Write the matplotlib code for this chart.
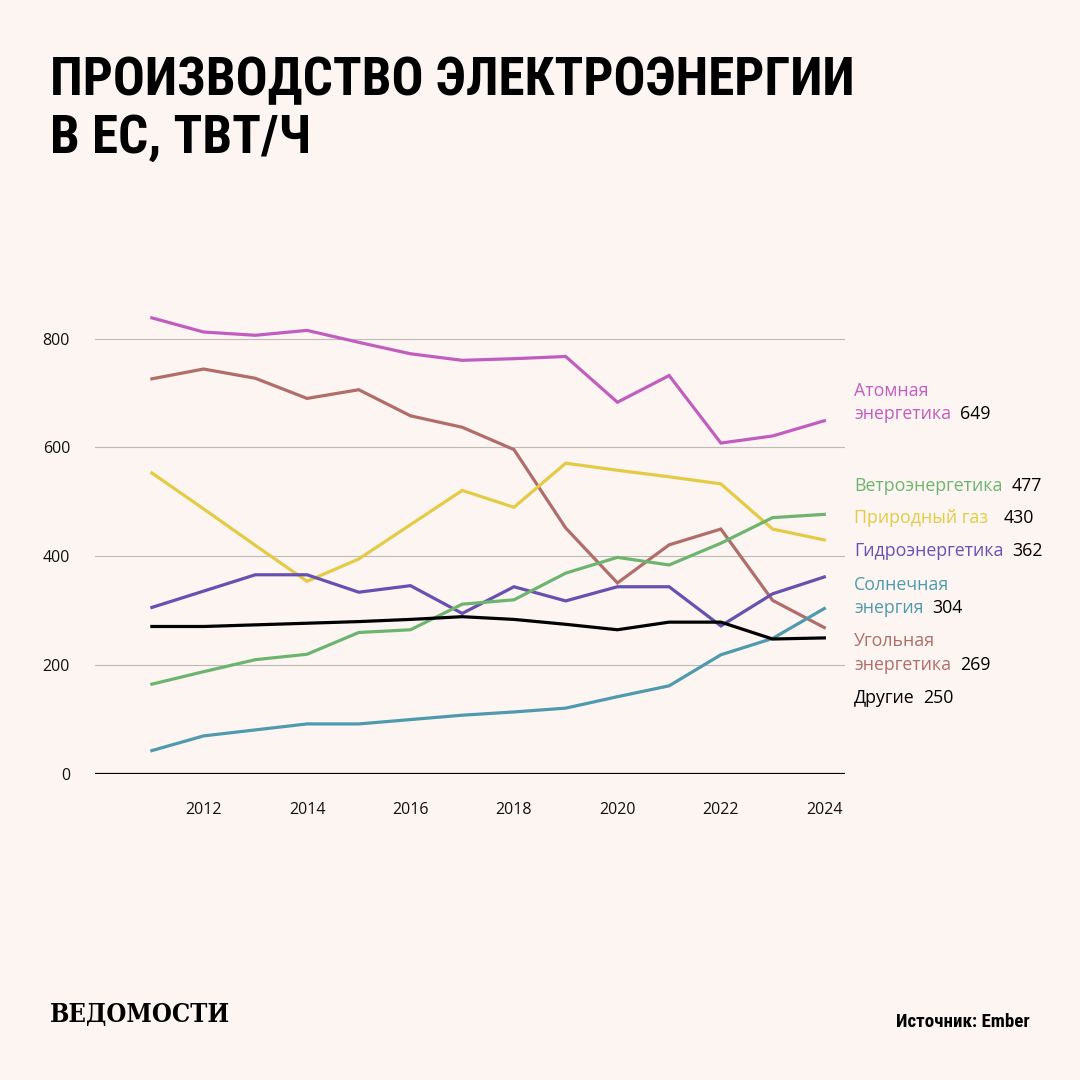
import matplotlib
matplotlib.use('Agg')
import matplotlib.pyplot as plt
from matplotlib import font_manager as fm

# === Data (TWh, EU) ===
years = list(range(2011, 2025))
nuclear = [838, 812, 806, 815, 793, 772, 760, 763, 767, 683, 732, 608, 621, 649]
coal = [726, 744, 727, 690, 706, 658, 637, 596, 452, 351, 421, 450, 319, 269]
gas = [553, 487, 420, 354, 395, 458, 521, 490, 571, 558, 546, 533, 450, 430]
hydro = [306, 336, 366, 366, 334, 346, 295, 344, 318, 344, 344, 272, 331, 362]
wind = [165, 188, 210, 220, 260, 265, 312, 320, 369, 398, 384, 424, 471, 477]
solar = [43, 70, 81, 92, 92, 100, 108, 114, 121, 142, 162, 219, 249, 304]
other = [271, 271, 274, 277, 280, 284, 289, 284, 275, 265, 279, 279, 248, 250]

yticks = [0, 200, 400, 600, 800]
xticks = [2012, 2014, 2016, 2018, 2020, 2022, 2024]

BG = '#FCF5F1'
FONT = 'Open Sans'

series = [
    (nuclear, '#C25DC0', ['Атомная', 'энергетика']),
    (coal, '#B06D69', ['Угольная', 'энергетика']),
    (gas, '#E3CB45', ['Природный газ']),
    (hydro, '#6651B0', ['Гидроэнергетика']),
    (wind, '#6DB56F', ['Ветроэнергетика']),
    (solar, '#4F9AAE', ['Солнечная', 'энергия']),
    (other, '#000000', ['Другие']),
]


def weight_num(w):
    if isinstance(w, (int, float)):
        return int(w)
    return {'ultralight': 200, 'light': 300, 'normal': 400, 'regular': 400, 'book': 400,
            'medium': 500, 'roman': 400, 'semibold': 600, 'demibold': 600, 'demi': 600,
            'bold': 700, 'heavy': 800, 'extra bold': 800, 'black': 900}.get(str(w).lower(), 400)


def is_condensed(s):
    if isinstance(s, (int, float)):
        return s < 100
    return 'condensed' in str(s).lower() or 'narrow' in str(s).lower()


def pick_font(names):
    # prefer condensed, then heaviest weight
    best, best_score = None, -1
    for rank, name in enumerate(names):
        for f in fm.fontManager.ttflist:
            if f.name != name:
                continue
            if 'italic' in str(f.style).lower() or 'oblique' in str(f.style).lower():
                continue
            cond = is_condensed(f.stretch) or 'ondensed' in f.fname or 'Narrow' in f.fname
            w = weight_num(f.weight)
            score = cond * 10000 + w * 10 - rank
            if w < 600:
                score -= 5000
            if score > best_score:
                best, best_score = f, score
    if best is None:
        return fm.FontProperties(family='DejaVu Sans', weight='bold')
    return fm.FontProperties(fname=best.fname)


title_fp = pick_font(['Roboto Condensed', 'Liberation Sans Narrow', 'DejaVu Sans',
                      'Noto Sans', 'Roboto', 'Open Sans', 'Inter'])
logo_fp = pick_font(['DejaVu Serif', 'Liberation Serif', 'Noto Serif'])

fig = plt.figure(figsize=(10.8, 10.8), dpi=100, facecolor=BG)
ax = fig.add_axes([95 / 1080, 1 - 774 / 1080, 750 / 1080, 479 / 1080])
ax.set_facecolor(BG)

for vals, col, _ in series:
    ax.plot(years, vals, color=col, linewidth=2.3, solid_joinstyle='miter', zorder=3)

ax.set_xlim(2009.9, 2024.4)
ax.set_ylim(0, 880)
ax.set_yticks(yticks)
ax.set_xticks(xticks)
ax.grid(axis='y', color='#BDBAB8', linewidth=0.8)
ax.axhline(0, color='black', linewidth=1.6, zorder=4)
for s in ax.spines.values():
    s.set_visible(False)
ax.tick_params(length=0, labelsize=11.5, pad=18)
ax.tick_params(axis='x', pad=20)
for lbl in ax.get_xticklabels() + ax.get_yticklabels():
    lbl.set_fontfamily(FONT)
    lbl.set_color('#111111')

fig.canvas.draw()
renderer = fig.canvas.get_renderer()


def fitted_text(x, y, s, fp, width_px, ha='left', color='black'):
    t = fig.text(x / 1080, 1 - y / 1080, s, fontproperties=fp, fontsize=30,
                 va='center', ha=ha, color=color)
    w = t.get_window_extent(renderer).width
    t.set_fontsize(30 * width_px / w)
    return t


# === Right-hand labels ===
label_pos = {
    'Атомная': (391, 414),
    'Ветроэнергетика': (486,),
    'Природный газ': (518,),
    'Гидроэнергетика': (551,),
    'Солнечная': (585, 608),
    'Угольная': (641, 665),
    'Другие': (698,),
}
for vals, col, lines in series:
    ys = label_pos[lines[0]]
    last = None
    for line, ypx in zip(lines, ys):
        last = fig.text(854 / 1080, 1 - ypx / 1080, line, color=col, fontsize=12.8,
                        family=FONT, va='center', ha='left')
    bb = last.get_window_extent(renderer)
    gap = 16 if lines[0] == 'Природный газ' else 9
    fig.text((bb.x1 + gap) / 1080, 1 - ys[-1] / 1080, str(vals[-1]), color='black',
             fontsize=12.8, family=FONT, va='center', ha='left')

# === Title ===
t1 = fitted_text(50, 81, 'ПРОИЗВОДСТВО ЭЛЕКТРОЭНЕРГИИ', title_fp, 805)
fig.text(50 / 1080, 1 - 138 / 1080, 'В ЕС, ТВТ/Ч', fontproperties=title_fp,
         fontsize=t1.get_fontsize(), va='center', ha='left')

# === Footer ===
fitted_text(50, 1015, 'ВЕДОМОСТИ', logo_fp, 180)
fitted_text(1030, 1022, 'Источник: Ember', title_fp, 133, ha='right')

fig.savefig('out.png', dpi=100, facecolor=BG)
